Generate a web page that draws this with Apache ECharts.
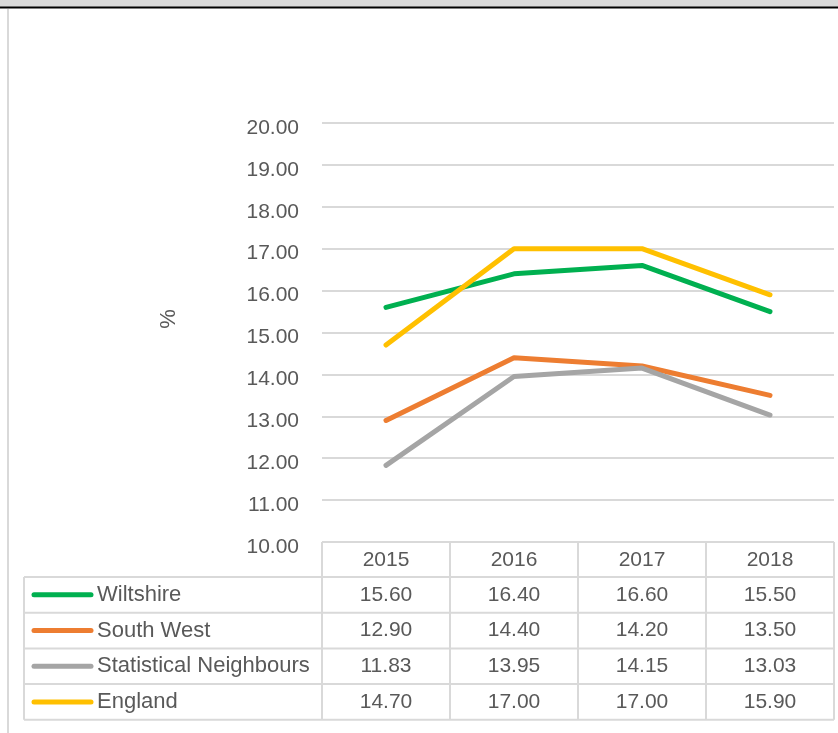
<!DOCTYPE html>
<html><head><meta charset="utf-8">
<script src="https://cdn.jsdelivr.net/npm/echarts@6/dist/echarts.min.js"></script>
<style>html,body{margin:0;padding:0;background:#fff}#c{width:838px;height:733px}</style>
</head><body><div id="c"></div>
<script>
// ---- data ----
const categories = ['2015', '2016', '2017', '2018'];
const seriesNames = ['Wiltshire', 'South West', 'Statistical Neighbours', 'England'];
const wiltshire = [15.60, 16.40, 16.60, 15.50];
const southWest = [12.90, 14.40, 14.20, 13.50];
const statNeighbours = [11.83, 13.95, 14.15, 13.03];
const england = [14.70, 17.00, 17.00, 15.90];
const yMin = 10, yMax = 20, yStep = 1;
const yAxisTitle = '%';

// ---- styling ----
const colors = ['#00b050', '#ed7d31', '#a5a5a5', '#ffc000'];
const allSeries = [wiltshire, southWest, statNeighbours, england];
const FONT = '"Liberation Sans", Arial, sans-serif';
const TXT = '#595959';
const LINE = '#d9d9d9';
const gridLeft = 322, gridRight = 4, gridTop = 123, gridBottomY = 542;
const tableLeft = 24, headerTop = 542, rowH = 35.7, headerH = 35;

const chart = echarts.init(document.getElementById('c'), null, {renderer: 'canvas'});

chart.setOption({
  animation: false,
  backgroundColor: '#fff',
  grid: {left: gridLeft, right: gridRight, top: gridTop, bottom: 733 - gridBottomY, containLabel: false},
  xAxis: {
    type: 'category', data: categories, boundaryGap: true,
    axisLine: {show: false}, axisTick: {show: false}, axisLabel: {show: false}
  },
  yAxis: {
    type: 'value', min: yMin, max: yMax, interval: yStep,
    axisLine: {show: false}, axisTick: {show: false},
    axisLabel: {formatter: v => v.toFixed(2), color: TXT, fontFamily: FONT, fontSize: 21, margin: 23,
      verticalAlign: 'top', lineHeight: 10},
    splitLine: {lineStyle: {color: LINE, width: 2}}
  },
  series: allSeries.map((d, i) => ({
    name: seriesNames[i], type: 'line', data: d, symbol: 'none',
    lineStyle: {color: colors[i], width: 5, cap: 'round', join: 'round'},
    z: 3
  }))
});

// ---- data table built from the arrays ----
const colCenters = categories.map(c => chart.convertToPixel({xAxisIndex: 0}, c));
const colW = colCenters[1] - colCenters[0];
const tableRight = colCenters[colCenters.length - 1] + colW / 2;
const colEdges = [gridLeft].concat(colCenters.map(c => c + colW / 2));
const rowsTop = headerTop + headerH;
const tableBottom = rowsTop + rowH * seriesNames.length;
const g = [];

// top band (cut-off title area)
g.push({type: 'rect', shape: {x: 0, y: 0, width: 838, height: 7}, style: {fill: '#d9d9d9'}, silent: true});
g.push({type: 'line', shape: {x1: 0, y1: 7.5, x2: 838, y2: 7.5}, style: {stroke: '#000', lineWidth: 2}});
g.push({type: 'line', shape: {x1: 8, y1: 9, x2: 8, y2: 733}, style: {stroke: LINE, lineWidth: 2}});

// horizontal lines
g.push({type: 'line', shape: {x1: gridLeft, y1: headerTop, x2: tableRight, y2: headerTop}, style: {stroke: LINE, lineWidth: 2}});
for (let r = 0; r <= seriesNames.length; r++) {
  const y = rowsTop + r * rowH;
  g.push({type: 'line', shape: {x1: tableLeft, y1: y, x2: tableRight, y2: y}, style: {stroke: LINE, lineWidth: 2}});
}
// vertical lines
g.push({type: 'line', shape: {x1: tableLeft, y1: rowsTop, x2: tableLeft, y2: tableBottom}, style: {stroke: LINE, lineWidth: 2}});
colEdges.forEach(x => {
  g.push({type: 'line', shape: {x1: x, y1: headerTop, x2: x, y2: tableBottom}, style: {stroke: LINE, lineWidth: 2}});
});
// header labels
categories.forEach((c, j) => {
  g.push({type: 'text', x: colCenters[j], y: headerTop + headerH / 2 + 1,
    style: {text: c, fill: TXT, font: '21px ' + FONT, align: 'center', verticalAlign: 'middle'}});
});
// rows
seriesNames.forEach((name, i) => {
  const yc = rowsTop + i * rowH + rowH / 2;
  g.push({type: 'line', shape: {x1: 34, y1: yc, x2: 91, y2: yc},
    style: {stroke: colors[i], lineWidth: 5, lineCap: 'round'}});
  g.push({type: 'text', x: 97, y: yc,
    style: {text: name, fill: TXT, font: '22px ' + FONT, align: 'left', verticalAlign: 'middle'}});
  allSeries[i].forEach((v, j) => {
    g.push({type: 'text', x: colCenters[j], y: yc,
      style: {text: v.toFixed(2), fill: TXT, font: '21px ' + FONT, align: 'center', verticalAlign: 'middle'}});
  });
});
// y-axis title
g.push({type: 'text', x: 169, y: 319, rotation: Math.PI / 2,
  style: {text: yAxisTitle, fill: TXT, font: '22px ' + FONT, align: 'center', verticalAlign: 'middle'}});

chart.setOption({graphic: {elements: g}});
</script>
</body></html>
